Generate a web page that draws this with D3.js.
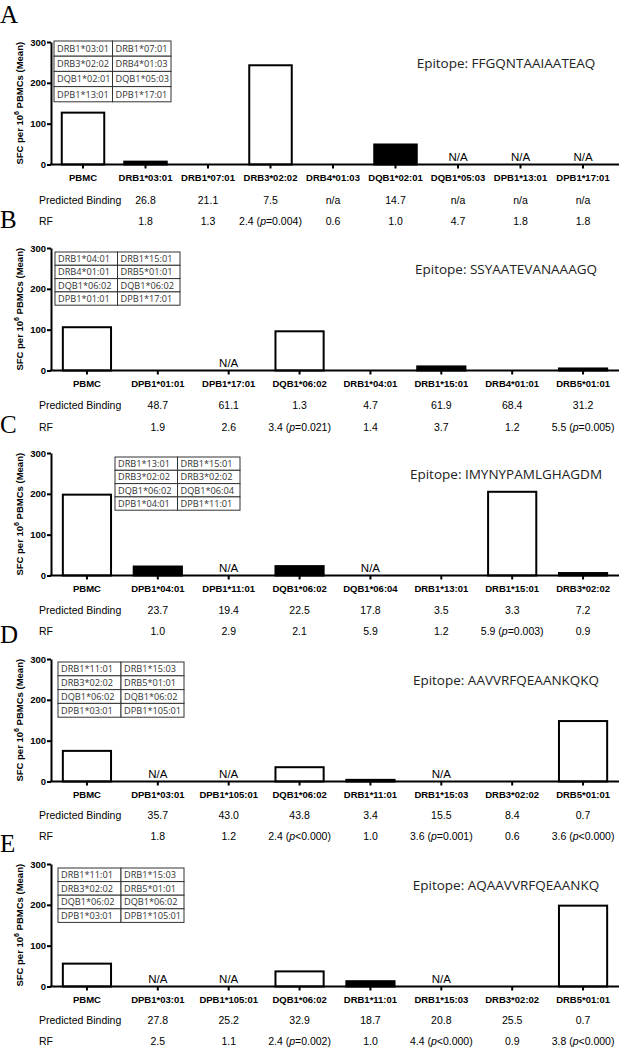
<!DOCTYPE html>
<html>
<head>
<meta charset="utf-8">
<script src="https://cdn.jsdelivr.net/npm/d3@7"></script>
<style>
  body { margin: 0; background: #fff; }
  svg { display: block; }
</style>
</head>
<body>
<script>
// ---- data ----
const letters = ["A", "B", "C", "D", "E"];
const epitopes = ["FFGQNTAAIAATEAQ", "SSYAATEVANAAAGQ", "IMYNYPAMLGHAGDM", "AAVVRFQEAANKQKQ", "AQAAVVRFQEAANKQ"];

const allelesA = ["PBMC", "DRB1*03:01", "DRB1*07:01", "DRB3*02:02", "DRB4*01:03", "DQB1*02:01", "DQB1*05:03", "DPB1*13:01", "DPB1*17:01"];
const sfcA = [127, 7, 0, 243, 0, 49, null, null, null];
const solidA = ["DRB1*03:01", "DQB1*02:01"];
const bindingA = ["26.8", "21.1", "7.5", "n/a", "14.7", "n/a", "n/a", "n/a"];
const rfA = ["1.8", "1.3", "2.4 (p=0.004)", "0.6", "1.0", "4.7", "1.8", "1.8"];
const hlaA = [["DRB1*03:01", "DRB1*07:01"], ["DRB3*02:02", "DRB4*01:03"], ["DQB1*02:01", "DQB1*05:03"], ["DPB1*13:01", "DPB1*17:01"]];

const allelesB = ["PBMC", "DPB1*01:01", "DPB1*17:01", "DQB1*06:02", "DRB1*04:01", "DRB1*15:01", "DRB4*01:01", "DRB5*01:01"];
const sfcB = [106, 0, null, 96, 0, 10, 0, 5];
const solidB = ["DRB1*15:01", "DRB5*01:01"];
const bindingB = ["48.7", "61.1", "1.3", "4.7", "61.9", "68.4", "31.2"];
const rfB = ["1.9", "2.6", "3.4 (p=0.021)", "1.4", "3.7", "1.2", "5.5 (p=0.005)"];
const hlaB = [["DRB1*04:01", "DRB1*15:01"], ["DRB4*01:01", "DRB5*01:01"], ["DQB1*06:02", "DQB1*06:02"], ["DPB1*01:01", "DPB1*17:01"]];

const allelesC = ["PBMC", "DPB1*04:01", "DPB1*11:01", "DQB1*06:02", "DQB1*06:04", "DRB1*13:01", "DRB1*15:01", "DRB3*02:02"];
const sfcC = [198, 22, null, 23, null, 0, 205, 6];
const solidC = ["DPB1*04:01", "DQB1*06:02", "DRB3*02:02"];
const bindingC = ["23.7", "19.4", "22.5", "17.8", "3.5", "3.3", "7.2"];
const rfC = ["1.0", "2.9", "2.1", "5.9", "1.2", "5.9 (p=0.003)", "0.9"];
const hlaC = [["DRB1*13:01", "DRB1*15:01"], ["DRB3*02:02", "DRB3*02:02"], ["DQB1*06:02", "DQB1*06:04"], ["DPB1*04:01", "DPB1*11:01"]];

const allelesD = ["PBMC", "DPB1*03:01", "DPB1*105:01", "DQB1*06:02", "DRB1*11:01", "DRB1*15:03", "DRB3*02:02", "DRB5*01:01"];
const sfcD = [75, null, null, 35, 4, null, 0, 148];
const solidD = ["DRB1*11:01"];
const bindingD = ["35.7", "43.0", "43.8", "3.4", "15.5", "8.4", "0.7"];
const rfD = ["1.8", "1.2", "2.4 (p<0.000)", "1.0", "3.6 (p=0.001)", "0.6", "3.6 (p<0.000)"];
const hlaD = [["DRB1*11:01", "DRB1*15:03"], ["DRB3*02:02", "DRB5*01:01"], ["DQB1*06:02", "DQB1*06:02"], ["DPB1*03:01", "DPB1*105:01"]];

const allelesE = ["PBMC", "DPB1*03:01", "DPB1*105:01", "DQB1*06:02", "DRB1*11:01", "DRB1*15:03", "DRB3*02:02", "DRB5*01:01"];
const sfcE = [56, null, null, 37, 13, null, 0, 198];
const solidE = ["DRB1*11:01"];
const bindingE = ["27.8", "25.2", "32.9", "18.7", "20.8", "25.5", "0.7"];
const rfE = ["2.5", "1.1", "2.4 (p=0.002)", "1.0", "4.4 (p<0.000)", "0.9", "3.8 (p<0.000)"];
const hlaE = [["DRB1*11:01", "DRB1*15:03"], ["DRB3*02:02", "DRB5*01:01"], ["DQB1*06:02", "DQB1*06:02"], ["DPB1*03:01", "DPB1*105:01"]];

const yTicks = [0, 100, 200, 300];

// ---- layout ----
const W = 619, H = 1047;
const panelTop = [42, 248, 453, 659, 864];
const letterY = [22.5, 228, 433, 643, 852];
const plotH = 122.5;
const axisX = 51;
const bandRanges = [[51.75, 614.25], [51.5, 618.5], [51.5, 618.5], [51.5, 618.5], [51.5, 618.5]];
const tableBox = [
  {x: 54, y: 41, w: 58.5, h: 15.2},
  {x: 55, y: 252, w: 62.5, h: 13.3},
  {x: 115, y: 457, w: 62.5, h: 13.3},
  {x: 58, y: 662, w: 63, h: 13.8},
  {x: 58, y: 868, w: 63, h: 13.6}
];
const predOff = [39, 38, 38, 37, 37];
const rfOff = [60, 60, 59, 58, 58];
const arial = "'Liberation Sans', Arial, sans-serif";
const calibri = "'Open Sans', sans-serif";

const panels = [
  {alleles: allelesA, sfc: sfcA, solid: solidA, binding: bindingA, rf: rfA, hla: hlaA},
  {alleles: allelesB, sfc: sfcB, solid: solidB, binding: bindingB, rf: rfB, hla: hlaB},
  {alleles: allelesC, sfc: sfcC, solid: solidC, binding: bindingC, rf: rfC, hla: hlaC},
  {alleles: allelesD, sfc: sfcD, solid: solidD, binding: bindingD, rf: rfD, hla: hlaD},
  {alleles: allelesE, sfc: sfcE, solid: solidE, binding: bindingE, rf: rfE, hla: hlaE}
];

let svg = d3.select("body").append("svg")
    .attr("width", W)
    .attr("height", H);

panels.forEach(function(p, i) {
    let top = panelTop[i];
    let zero = top + plotH;

    let x = d3.scaleBand()
        .domain(p.alleles)
        .range(bandRanges[i])
        .paddingInner(0.32)
        .paddingOuter(0.16);
    let y = d3.scaleLinear().domain([0, 300]).range([zero, top]);

    let g = svg.append("g");

    // panel letter
    g.append("text")
        .attr("x", 0)
        .attr("y", letterY[i])
        .style("font-family", "'Liberation Serif', 'Times New Roman', serif")
        .style("font-size", "25px")
        .text(letters[i]);

    // bars
    let rows = p.alleles.map(function(a, j) { return {allele: a, value: p.sfc[j]}; });
    g.selectAll(".bar")
        .data(rows.filter(function(d) { return d.value !== null && d.value > 0; }))
        .enter().append("rect")
        .attr("class", "bar")
        .attr("x", function(d) { return x(d.allele); })
        .attr("width", x.bandwidth())
        .attr("y", function(d) { return y(d.value); })
        .attr("height", function(d) { return zero - y(d.value); })
        .style("fill", function(d) { return p.solid.indexOf(d.allele) >= 0 ? "#000" : "#fff"; })
        .style("stroke", "#000")
        .style("stroke-width", 2);

    // N/A marks
    g.selectAll(".na")
        .data(rows.filter(function(d) { return d.value === null; }))
        .enter().append("text")
        .attr("x", function(d) { return x(d.allele) + x.bandwidth() / 2; })
        .attr("y", zero - 4)
        .attr("text-anchor", "middle")
        .style("font-family", arial)
        .style("font-size", "11.5px")
        .text("N/A");

    // y axis
    let yAxis = d3.axisLeft(y)
        .tickValues(yTicks)
        .tickSize(4)
        .tickSizeOuter(0)
        .tickFormat(d3.format("d"));
    let ya = g.append("g")
        .attr("transform", "translate(" + axisX + ",0)")
        .call(yAxis);
    ya.select(".domain").style("stroke-width", 2);
    ya.selectAll(".tick line").style("stroke-width", 2);
    ya.selectAll("text")
        .attr("x", -5)
        .style("font-family", arial)
        .style("font-weight", "bold")
        .style("font-size", "9.5px");

    // x axis
    let xAxis = d3.axisBottom(x)
        .tickSize(4)
        .tickSizeOuter(0);
    let xa = g.append("g")
        .attr("transform", "translate(0," + zero + ")")
        .call(xAxis);
    xa.select(".domain").remove();
    xa.append("line")
        .attr("x1", axisX - 1)
        .attr("x2", W)
        .style("stroke", "#000")
        .style("stroke-width", 2);
    xa.selectAll(".tick line").style("stroke-width", 2);
    xa.selectAll("text")
        .attr("y", 8)
        .attr("dy", "0.9em")
        .style("font-family", arial)
        .style("font-weight", "bold")
        .style("font-size", "9.5px")
        .style("fill", "#000");

    // y axis title
    let yt = g.append("text")
        .attr("transform", "translate(23," + (top + plotH / 2) + ") rotate(-90)")
        .attr("text-anchor", "middle")
        .style("font-family", arial)
        .style("font-weight", "bold")
        .style("font-size", "9.5px");
    yt.append("tspan").text("SFC per 10");
    yt.append("tspan").attr("dy", -4).style("font-size", "7px").text("6");
    yt.append("tspan").attr("dy", 4).text(" PBMCs (Mean)");

    // epitope label
    g.append("text")
        .attr("x", 506)
        .attr("y", top + 26)
        .attr("text-anchor", "middle")
        .style("font-family", calibri)
        .style("font-size", "13.5px")
        .style("fill", "#222")
        .text("Epitope: " + epitopes[i]);

    // HLA table
    let tb = tableBox[i];
    let cells = [];
    p.hla.forEach(function(r, ri) {
        r.forEach(function(c, ci) { cells.push({r: ri, c: ci, t: c}); });
    });
    let tg = g.append("g");
    tg.selectAll("rect")
        .data(cells)
        .enter().append("rect")
        .attr("x", function(d) { return tb.x + d.c * tb.w; })
        .attr("y", function(d) { return tb.y + d.r * tb.h; })
        .attr("width", tb.w)
        .attr("height", tb.h)
        .style("fill", "#fff")
        .style("stroke", "#333")
        .style("stroke-width", 1);
    tg.selectAll("text")
        .data(cells)
        .enter().append("text")
        .attr("x", function(d) { return tb.x + d.c * tb.w + 3; })
        .attr("y", function(d) { return tb.y + d.r * tb.h + tb.h / 2; })
        .attr("dy", "0.36em")
        .style("font-family", calibri)
        .style("font-size", "9.2px")
        .style("fill", "#333")
        .text(function(d) { return d.t; });

    // predicted binding / RF rows
    let others = p.alleles.slice(1);
    let predY = zero + predOff[i];
    let rfY = zero + rfOff[i];
    g.append("text")
        .attr("x", 39)
        .attr("y", predY)
        .style("font-family", arial)
        .style("font-size", "10.5px")
        .text("Predicted Binding");
    g.append("text")
        .attr("x", 39)
        .attr("y", rfY)
        .style("font-family", arial)
        .style("font-size", "10.5px")
        .text("RF");

    g.selectAll(".bind")
        .data(others)
        .enter().append("text")
        .attr("class", "bind")
        .attr("x", function(d) { return x(d) + x.bandwidth() / 2; })
        .attr("y", predY)
        .attr("text-anchor", "middle")
        .style("font-family", arial)
        .style("font-size", "10.5px")
        .text(function(d, j) { return p.binding[j]; });

    g.selectAll(".rf")
        .data(others)
        .enter().append("text")
        .attr("class", "rf")
        .attr("x", function(d) { return x(d) + x.bandwidth() / 2; })
        .attr("y", rfY)
        .attr("text-anchor", "middle")
        .style("font-family", arial)
        .style("font-size", "10.5px")
        .each(function(d, j) {
            let s = p.rf[j];
            let m = s.match(/^(.*\()p(.*)$/);
            let t = d3.select(this);
            if (m) {
                t.append("tspan").text(m[1]);
                t.append("tspan").style("font-style", "italic").text("p");
                t.append("tspan").text(m[2]);
            } else {
                t.text(s);
            }
        });
});
</script>
</body>
</html>
